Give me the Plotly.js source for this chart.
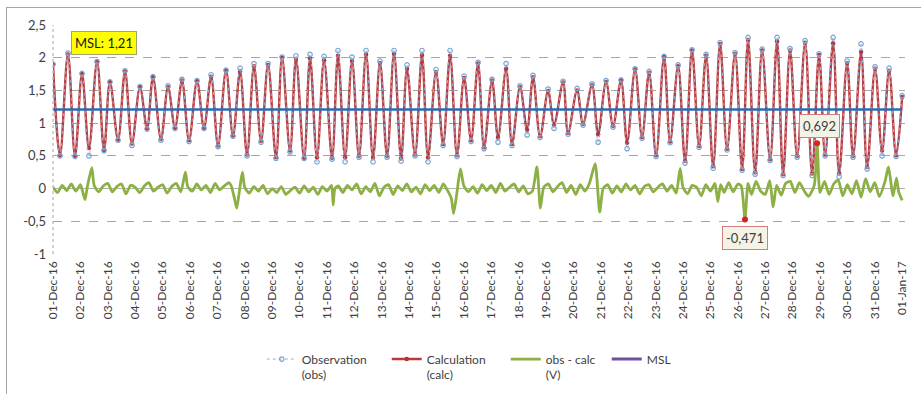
<!DOCTYPE html>
<html>
<head>
<meta charset="utf-8">
<script src="https://cdn.plot.ly/plotly-3.0.1.min.js"></script>
<style>
  html, body { margin: 0; padding: 0; background: #ffffff; }
  #wrap { position: relative; width: 921px; height: 394px; overflow: hidden; }
  #chart { width: 921px; height: 394px; }
  #frame { position: absolute; left: 6px; top: 7px; width: 930px; height: 400px;
           border-top: 1px solid #a6a6a6; border-left: 1px solid #a6a6a6; pointer-events: none; }
</style>
</head>
<body>
<div id="wrap"><div id="chart"></div><div id="frame"></div></div>
<script>
// ---- Data (hours since 01-Dec-2016 00:00) ----
const highHours = [0,13.1,25.4,38.6,49.9,63.1,76.2,87.6,100.8,113.0,126.2,138.5,151.6,163.9,176.1,188.4,200.7,212.9,225.2,237.5,249.7,262.0,274.3,286.5,298.8,310.2,323.3,335.6,347.9,360.2,372.4,384.7,397.0,409.2,420.6,433.8,446.9,459.2,472.3,484.6,497.7,510.0,522.3,535.4,547.7,559.9,572.2,584.5,597.6,609.0,621.3,634.4,645.8,659.0,671.2,683.5,695.8,708.0,720.3,732.6];
const highCalc = [1.90,2.05,1.75,1.94,1.63,1.79,1.55,1.70,1.55,1.65,1.64,1.71,1.80,1.79,1.87,1.89,2.00,1.98,1.99,1.96,2.03,1.95,2.05,1.92,2.06,1.83,2.04,1.78,2.03,1.69,1.91,1.65,1.83,1.55,1.70,1.49,1.62,1.50,1.58,1.63,1.65,1.82,1.77,2.01,1.87,2.11,2.03,2.21,2.06,2.27,2.11,2.25,2.11,2.23,2.04,2.22,1.92,2.09,1.83,1.80];
const highObs = [1.90,2.07,1.76,1.94,1.63,1.80,1.56,1.71,1.57,1.67,1.65,1.74,1.81,1.84,1.91,1.91,2.01,2.03,2.05,2.02,2.11,2.01,2.11,1.95,2.11,1.89,2.11,1.82,2.11,1.72,1.93,1.67,1.91,1.57,1.73,1.52,1.64,1.53,1.60,1.65,1.66,1.83,1.79,2.02,1.89,2.12,2.05,2.23,2.08,2.31,2.13,2.31,2.14,2.26,2.06,2.31,1.95,2.21,1.86,1.84];

const lowHours = [6.1,19.3,31.5,44.7,57.0,69.2,82.4,94.6,106.9,119.2,132.3,144.6,157.7,170.0,182.3,195.4,207.7,220.0,231.3,244.5,255.9,268.1,280.4,292.7,305.0,317.2,328.6,341.8,354.0,366.3,377.7,389.9,402.2,415.4,426.8,439.0,451.3,464.4,477.6,490.7,503.0,516.1,528.4,540.7,553.8,566.1,578.4,590.6,603.8,615.2,628.3,639.7,652.0,665.1,676.5,688.8,701.0,713.3,726.4,738.7];
const lowCalc = [0.51,0.50,0.62,0.59,0.75,0.69,0.92,0.76,0.93,0.74,0.93,0.66,0.81,0.52,0.73,0.48,0.58,0.47,0.48,0.47,0.48,0.50,0.47,0.50,0.46,0.52,0.48,0.68,0.51,0.74,0.63,0.78,0.68,0.90,0.80,0.98,0.85,0.99,0.83,0.96,0.70,0.79,0.51,0.72,0.42,0.65,0.34,0.61,0.30,0.25,0.45,0.22,0.50,0.23,0.52,0.23,0.50,0.33,0.58,0.51];
const lowObs = [0.50,0.49,0.50,0.58,0.74,0.66,0.91,0.74,0.92,0.72,0.92,0.64,0.80,0.50,0.71,0.46,0.56,0.46,0.41,0.45,0.41,0.48,0.41,0.48,0.42,0.50,0.41,0.66,0.49,0.72,0.61,0.71,0.66,0.82,0.78,0.92,0.83,0.97,0.71,0.94,0.61,0.77,0.49,0.70,0.39,0.63,0.31,0.59,0.28,0.22,0.43,0.20,0.48,0.20,0.50,0.18,0.48,0.30,0.50,0.49];

const endHour = 744;
const endCalc = 1.40;
const endObs = 1.42;

const resHours = [0,4,8,12,16,20,24,28,30,34,36,40,44,48,52,56,60,64,68,72,76,80,84,88,92,96,100,104,108,112,116,118,122,126,130,134,138,142,146,150,154,156,159,161,164,166,168,172,176,180,184,188,192,196,200,204,208,212,216,220,224,228,232,236,240,244,245.5,247,250,254,258,262,266,270,274,278,282,286,290,294,298,302,306,310,314,318,322,326,330,334,338,342,346,349,351,354,357,360,364,368,372,376,380,384,388,392,396,400,404,408,412,416,420,424,427,430,434,438,442,446,450,454,458,462,466,470,475,479,482,486,490,494,498,502,506,510,514,518,522,526,530,534,538,542,546,549.5,552,556,560,564,568,572,576,580,582.5,585,588,592,596,600,603,606.3,609,612,616,620,624,628,631,634,638,642,646,650,654,658,662,667,669.5,672,676,680,684,688,692,696,700,704,708,712,716,720,724,729,732,736,739,741,744];
const resValues = [0.02,-0.06,0.05,-0.03,0.07,-0.04,0.06,-0.17,0.02,0.32,0.05,-0.05,0.04,0.08,-0.05,0.03,0.07,-0.08,0.05,0.02,-0.06,0.04,0.09,-0.04,0.02,0.06,-0.07,0.03,0.08,-0.05,0.25,0.03,-0.04,0.07,-0.02,0.05,-0.06,0.08,-0.02,0.04,0.09,0.05,-0.15,-0.30,0.05,0.25,0.02,-0.07,0.03,-0.04,0.05,-0.08,0.00,-0.06,0.03,-0.09,-0.03,0.02,-0.07,0.04,-0.05,0.02,-0.09,0.03,-0.04,0.05,-0.25,0.00,0.04,-0.06,0.05,-0.02,0.07,-0.08,0.03,-0.05,0.08,-0.11,0.02,0.06,-0.09,0.04,-0.03,0.07,-0.05,0.02,-0.08,0.06,-0.03,0.05,-0.06,0.07,-0.04,-0.15,-0.38,-0.05,0.30,0.04,-0.05,0.03,-0.07,0.06,-0.03,0.05,-0.06,0.08,-0.04,0.02,0.07,-0.05,0.04,-0.08,-0.04,0.33,-0.30,0.02,0.07,-0.05,0.03,0.09,-0.06,0.05,-0.09,0.06,-0.04,0.08,0.38,-0.36,0.00,0.06,-0.07,0.04,-0.05,0.07,-0.02,0.05,-0.08,0.03,0.06,-0.05,0.02,0.07,-0.04,0.05,-0.07,0.31,0.02,-0.08,0.05,0.02,-0.11,0.06,-0.04,0.08,-0.20,0.06,-0.06,0.09,-0.05,0.07,0.04,-0.471,0.08,-0.09,0.11,-0.04,-0.09,0.12,-0.28,0.05,-0.10,0.08,0.11,-0.06,0.09,-0.03,-0.12,0.05,0.692,-0.06,0.11,-0.09,0.07,0.13,-0.11,0.06,-0.08,0.12,-0.13,0.15,-0.05,0.09,-0.12,0.11,0.33,-0.11,0.16,-0.05,-0.18,0.30];

const mslValue = 1.21;
const axisStart = '2016-12-01 00:00:00';
const axisEnd = '2017-01-01 02:30:00';
const seriesNames = ['Observation<br>(obs)', 'Calculation<br>(calc)', 'obs - calc<br>(V)', 'MSL'];

// ---- helpers ----
function toDate(h) {
  const d = new Date(Date.UTC(2016, 11, 1) + h * 3600000);
  return d.toISOString().replace('T', ' ').slice(0, 19);
}
function fmtComma(v, dec) { return v.toFixed(dec).replace('.', ','); }

const tide = [];
highHours.forEach((h, i) => tide.push({h: h, c: highCalc[i], o: highObs[i]}));
lowHours.forEach((h, i) => tide.push({h: h, c: lowCalc[i], o: lowObs[i]}));
tide.push({h: endHour, c: endCalc, o: endObs});
tide.sort((a, b) => a.h - b.h);
const tideX = tide.map(p => toDate(p.h));
const calcY = tide.map(p => p.c);
const obsY = tide.map(p => p.o);
const resX = resHours.map(toDate);

let iMax = 0, iMin = 0;
resValues.forEach((v, i) => { if (v > resValues[iMax]) iMax = i; if (v < resValues[iMin]) iMin = i; });

const FONT = 'Lato, "Open Sans", sans-serif';
const traces = [
  { x: tideX, y: calcY, name: seriesNames[1], type: 'scatter', mode: 'lines+markers',
    line: {color: '#bd3a3c', width: 2.4, shape: 'spline', smoothing: 1},
    marker: {color: '#b83235', size: 4.5}, legendrank: 2, legendwidth: 74 },
  { x: tideX, y: obsY, name: seriesNames[0], type: 'scatter', mode: 'lines+markers',
    line: {color: '#8fb3d9', width: 1, dash: 'dot', shape: 'spline', smoothing: 1},
    marker: {symbol: 'circle-open', color: '#7aa6d2', size: 4.5, line: {width: 1.2}}, legendrank: 1, legendwidth: 80 },
  { x: resX, y: resValues, name: seriesNames[2], type: 'scatter', mode: 'lines', cliponaxis: false,
    line: {color: '#8cb043', width: 2.8, shape: 'spline', smoothing: 0.6, simplify: false}, legendrank: 3, legendwidth: 56 },
  { x: [toDate(0), toDate(endHour)], y: [mslValue, mslValue], name: seriesNames[3], type: 'scatter',
    mode: 'lines', line: {color: '#2a6db5', width: 2.5}, showlegend: false },
  { x: [null], y: [null], name: seriesNames[3], type: 'scatter', mode: 'lines',
    line: {color: '#7050a0', width: 3}, legendrank: 4, legendwidth: 30 },
  { x: [resX[iMax], resX[iMin]], y: [resValues[iMax], resValues[iMin]], type: 'scatter', mode: 'markers',
    marker: {color: '#e02020', size: 6}, showlegend: false }
];

const yTicks = [-1, -0.5, 0, 0.5, 1, 1.5, 2, 2.5];
const layout = {
  width: 921, height: 394,
  margin: {l: 53, r: 16, t: 25, b: 140, autoexpand: false},
  paper_bgcolor: 'rgba(0,0,0,0)', plot_bgcolor: '#ffffff',
  font: {family: FONT, color: '#404040', size: 12},
  showlegend: true,
  xaxis: {
    type: 'date', range: [axisStart, axisEnd], automargin: false,
    tick0: '2016-12-01', dtick: 86400000, tickformat: '%d-%b-%y', tickangle: -90,
    showgrid: false, zeroline: false, showline: false, ticks: '', ticklabelstandoff: 4,
    tickfont: {family: FONT, size: 12, color: '#404040'}
  },
  yaxis: {
    range: [-1, 2.5], automargin: false, tickvals: yTicks,
    ticktext: yTicks.map(v => (v < 0 ? '-' : '') + fmtComma(Math.abs(v), Math.abs(v) % 1 ? 1 : 0)),
    showgrid: true, gridcolor: '#a6a6a6', griddash: 'dash', gridwidth: 1,
    zeroline: true, zerolinecolor: '#b0b0b0', zerolinewidth: 1.2,
    showline: false, ticks: '', ticklabelstandoff: 6,
    tickfont: {family: FONT, size: 13, color: '#404040'}
  },
  legend: {
    orientation: 'h', x: 0.245, xanchor: 'left', yref: 'container', y: 0.125, yanchor: 'top', valign: 'top',
    font: {family: FONT, size: 12, color: '#404040'}, bgcolor: 'rgba(0,0,0,0)', tracegroupgap: 0
  },
  shapes: [
    {type: 'line', xref: 'paper', yref: 'paper', x0: 0, x1: 0, y0: 0, y1: 1,
     line: {color: '#a6a6a6', width: 1, dash: 'dot'}}
  ],
  annotations: [
    {x: toDate(45), y: 2.22, xref: 'x', yref: 'y', text: 'MSL: ' + fmtComma(mslValue, 2), showarrow: false,
     bgcolor: '#ffff00', bordercolor: '#a3a36a', borderwidth: 1, borderpad: 3,
     font: {family: FONT, size: 13, color: '#1a1a1a'}},
    {x: resX[iMax], y: resValues[iMax], xref: 'x', yref: 'y', text: fmtComma(resValues[iMax], 3), showarrow: false,
     yshift: 17, xshift: 2, bgcolor: '#f3f3e6', bordercolor: '#d08080', borderwidth: 1, borderpad: 3,
     font: {family: FONT, size: 13, color: '#404040'}},
    {x: resX[iMin], y: resValues[iMin], xref: 'x', yref: 'y', text: fmtComma(resValues[iMin], 3), showarrow: false,
     yshift: -19, xshift: 0, bgcolor: '#f3f3e6', bordercolor: '#d08080', borderwidth: 1, borderpad: 3,
     font: {family: FONT, size: 13, color: '#404040'}}
  ]
};

Plotly.newPlot('chart', traces, layout, {staticPlot: true, displayModeBar: false});
</script>
</body>
</html>
